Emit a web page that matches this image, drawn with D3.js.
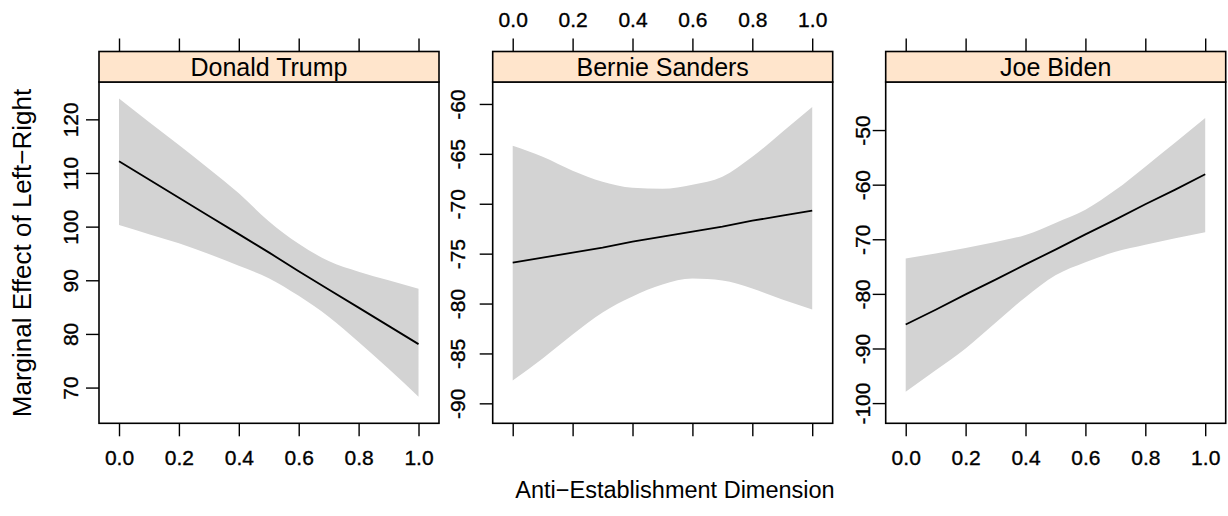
<!DOCTYPE html>
<html>
<head>
<meta charset="utf-8">
<script src="https://cdn.jsdelivr.net/npm/d3@7"></script>
<style>
  body { margin: 0; background: #fff; }
  text { font-family: "Liberation Sans", Arial, sans-serif; fill: #000; }
</style>
</head>
<body>
<div id="wrapper"></div>
<script>
// data
const xValues = [0, 0.1, 0.2, 0.3, 0.4, 0.5, 0.6, 0.7, 0.8, 0.9, 1.0];
const candidates = ["Donald Trump", "Bernie Sanders", "Joe Biden"];

const trumpFit   = [112.2, 108.8, 105.4, 102.0, 98.6, 95.2, 91.7, 88.3, 84.9, 81.5, 78.1];
const trumpLower = [100.3, 98.6, 96.9, 94.9, 92.7, 90.4, 87.1, 83.2, 78.5, 73.5, 68.3];
const trumpUpper = [123.9, 119.5, 115.2, 110.8, 106.2, 101.0, 96.8, 93.6, 91.6, 90.0, 88.4];

const sandersFit   = [-75.9, -75.4, -74.9, -74.4, -73.8, -73.3, -72.8, -72.3, -71.7, -71.2, -70.7];
const sandersLower = [-87.7, -85.5, -83.1, -80.9, -79.3, -78.1, -77.5, -77.7, -78.5, -79.6, -80.6];
const sandersUpper = [-64.2, -65.3, -66.7, -67.8, -68.4, -68.5, -68.1, -67.3, -65.3, -62.8, -60.3];

const bidenFit   = [-85.6, -82.9, -80.1, -77.4, -74.6, -71.9, -69.1, -66.4, -63.6, -60.9, -58.1];
const bidenLower = [-97.9, -94.0, -90.0, -85.3, -80.6, -76.6, -74.2, -72.3, -71.0, -69.8, -68.7];
const bidenUpper = [-73.5, -72.6, -71.6, -70.5, -69.2, -67.0, -64.6, -61.0, -56.7, -52.3, -47.8];

const xTicks = [0, 0.2, 0.4, 0.6, 0.8, 1.0];
const trumpTicks = [70, 80, 90, 100, 110, 120];
const sandersTicks = [-90, -85, -80, -75, -70, -65, -60];
const bidenTicks = [-100, -90, -80, -70, -60, -50];

const xLabel = "Anti\u2212Establishment Dimension";
const yLabel = "Marginal Effect of Left\u2212Right";

// panels
const panels = [
  { name: candidates[0], fit: trumpFit, lo: trumpLower, hi: trumpUpper,
    ticks: trumpTicks, domain: [63.34, 126.96], labelsAt: "bottom", yLabOff: 21 },
  { name: candidates[1], fit: sandersFit, lo: sandersLower, hi: sandersUpper,
    ticks: sandersTicks, domain: [-92.0, -57.8], labelsAt: "top", yLabOff: 28 },
  { name: candidates[2], fit: bidenFit, lo: bidenLower, hi: bidenUpper,
    ticks: bidenTicks, domain: [-103.7, -41.2], labelsAt: "bottom", yLabOff: 16 },
];

// dimensions
const dimensions = {
  width: 1228,
  height: 516,
  panelLefts: [99, 492.7, 885.7],
  panelWidth: 340,
  stripTop: 51.5,
  panelTop: 82,
  panelBottom: 423.3,
  tickLen: 13,
};
const panelHeight = dimensions.panelBottom - dimensions.panelTop;

const wrapper = d3.select("#wrapper")
  .append("svg")
    .attr("width", dimensions.width)
    .attr("height", dimensions.height);

const xScale = d3.scaleLinear()
  .domain([-0.0668, 1.0684])
  .range([0, dimensions.panelWidth]);

panels.forEach((p, i) => {
  const g = wrapper.append("g")
    .attr("transform", `translate(${dimensions.panelLefts[i]},${dimensions.panelTop})`);

  const yScale = d3.scaleLinear()
    .domain(p.domain)
    .range([panelHeight, 0]);

  const rows = xValues.map((x, j) => ({ x, fit: p.fit[j], lo: p.lo[j], hi: p.hi[j] }));

  // confidence band
  const area = d3.area()
    .curve(d3.curveMonotoneX)
    .x(d => xScale(d.x))
    .y0(d => yScale(d.lo))
    .y1(d => yScale(d.hi));
  g.append("path")
    .datum(rows)
    .attr("d", area)
    .attr("fill", "#d3d3d3");

  // fitted line
  const line = d3.line()
    .x(d => xScale(d.x))
    .y(d => yScale(d.fit));
  g.append("path")
    .datum(rows)
    .attr("d", line)
    .attr("fill", "none")
    .attr("stroke", "#000")
    .attr("stroke-width", 1.8);

  // panel border
  g.append("rect")
    .attr("x", 0).attr("y", 0)
    .attr("width", dimensions.panelWidth)
    .attr("height", panelHeight)
    .attr("fill", "none")
    .attr("stroke", "#000")
    .attr("stroke-width", 1.6);

  // strip
  const stripH = dimensions.panelTop - dimensions.stripTop;
  g.append("rect")
    .attr("x", 0).attr("y", -stripH)
    .attr("width", dimensions.panelWidth)
    .attr("height", stripH)
    .attr("fill", "#ffe5cc")
    .attr("stroke", "#000")
    .attr("stroke-width", 1.6);
  g.append("text")
    .attr("x", dimensions.panelWidth / 2)
    .attr("y", -stripH / 2)
    .attr("dy", "0.36em")
    .attr("text-anchor", "middle")
    .style("font-size", "25px")
    .text(p.name);

  // x axes (ticks top and bottom, labels on one side)
  const fmt = d3.format(".1f");
  const bottomAxis = d3.axisBottom(xScale)
    .tickValues(xTicks)
    .tickSize(dimensions.tickLen)
    .tickSizeOuter(0)
    .tickPadding(14)
    .tickFormat(p.labelsAt === "bottom" ? fmt : () => "");
  const bx = g.append("g")
    .attr("transform", `translate(0,${panelHeight})`)
    .call(bottomAxis);

  const topAxis = d3.axisTop(xScale)
    .tickValues(xTicks)
    .tickSize(dimensions.tickLen)
    .tickSizeOuter(0)
    .tickPadding(12)
    .tickFormat(p.labelsAt === "top" ? fmt : () => "");
  const tx = g.append("g")
    .attr("transform", `translate(0,${-stripH})`)
    .call(topAxis);

  // y axis, labels turned to read upwards, plain hyphen for negatives
  const yAxis = d3.axisLeft(yScale)
    .tickValues(p.ticks)
    .tickSize(dimensions.tickLen)
    .tickSizeOuter(0)
    .tickFormat(d => String(d));
  const ya = g.append("g").call(yAxis);
  ya.selectAll("text")
    .attr("x", null).attr("dy", null).attr("y", null)
    .attr("text-anchor", "middle")
    .attr("transform", `translate(${-p.yLabOff},0) rotate(-90)`);

  [bx, tx, ya].forEach(a => {
    a.select(".domain").remove();
    a.selectAll("line").attr("stroke", "#000").attr("stroke-width", 1.4);
    a.selectAll("text")
      .attr("fill", "#000")
      .attr("stroke", "#000")
      .attr("stroke-width", 0.35)
      .style("font-family", "'Liberation Sans', Arial, sans-serif")
      .style("font-size", "21px");
  });
});

// axis titles
wrapper.append("text")
  .attr("x", 675)
  .attr("y", 498)
  .attr("text-anchor", "middle")
  .style("font-size", "23.5px")
  .text(xLabel);

wrapper.append("text")
  .attr("transform", `translate(31,${(88 + 418) / 2}) rotate(-90)`)
  .attr("text-anchor", "middle")
  .style("font-size", "26px")
  .text(yLabel);
</script>
</body>
</html>
